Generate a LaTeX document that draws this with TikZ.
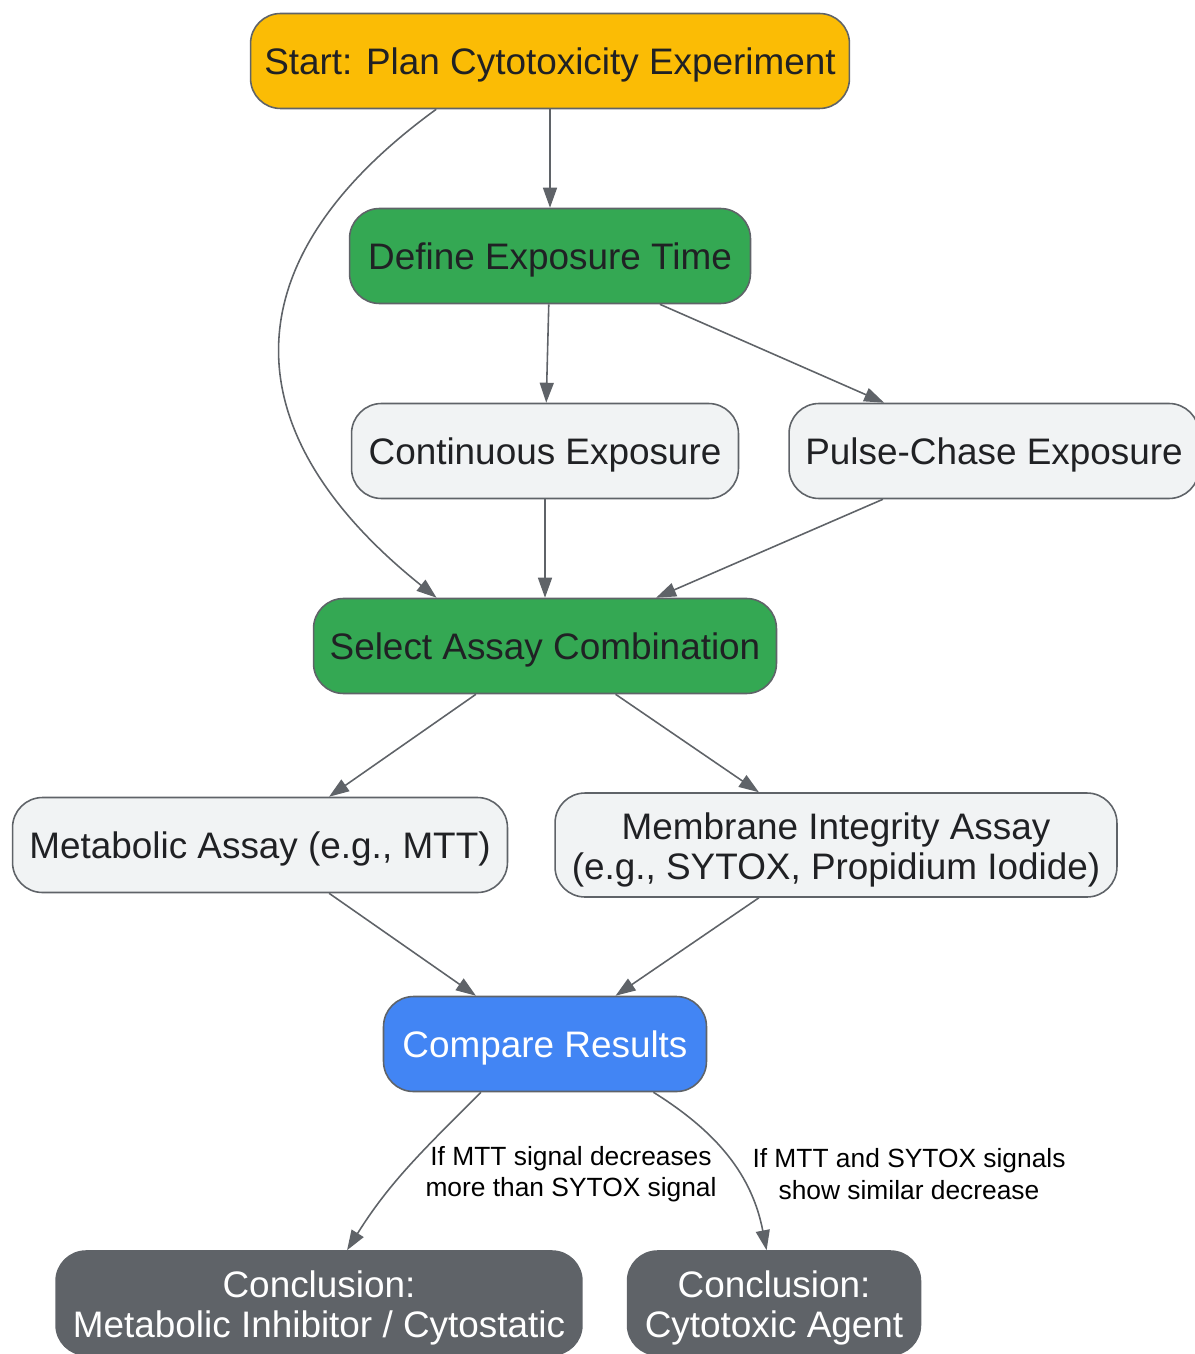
\documentclass[tikz,border=0pt]{standalone}
\usepackage{fontspec}
\setmainfont{Liberation Sans}
\usetikzlibrary{arrows.meta}

\definecolor{boxgray}{HTML}{5F6368}
\definecolor{lightfill}{HTML}{F1F3F4}
\definecolor{textdark}{HTML}{202124}
\definecolor{startyellow}{HTML}{FBBC05}
\definecolor{stepgreen}{HTML}{34A853}
\definecolor{compareblue}{HTML}{4285F4}

\newcommand{\firstline}{\rule{0pt}{21pt}}  %hebt die erste Zeile an

\begin{document}
\begin{tikzpicture}[x=0.02cm, y=-0.02cm,
  flowbox/.style={draw=boxgray, line width=0.9pt, rounded corners=0.6cm, minimum height=1.9cm,
    align=center, inner sep=0pt, text=textdark, font=\fontsize{21}{23}\selectfont},
  oneline/.style={text height=17pt, text depth=1.2pt},
  lightbox/.style={flowbox, fill=lightfill},
  greenbox/.style={flowbox, fill=stepgreen, oneline},
  darkbox/.style={flowbox, fill=boxgray, text=white, minimum height=2.08cm},
  flowarrow/.style={draw=boxgray, line width=0.9pt, -{Triangle[length=0.4cm,width=0.28cm]}},
  edgetext/.style={align=center, text=black, font=\fontsize{15}{18}\selectfont}]

  \useasboundingbox (0,0) rectangle (1194,1354);  %Bildrand

  \node[flowbox, oneline, fill=startyellow, minimum width=11.98cm] (start) at (550,61) {Start: Plan Cytotoxicity Experiment};  %Start
  \node[greenbox, minimum width=8.02cm] (exposure) at (550,256) {Define Exposure Time};
  \node[lightbox, oneline, minimum width=7.74cm] (continuous) at (545,451) {Continuous Exposure};
  \node[lightbox, oneline, minimum width=8.2cm] (pulse) at (994,451) {Pulse-Chase Exposure};
  \node[greenbox, minimum width=9.26cm] (assay) at (545,646) {Select Assay Combination};
  \node[lightbox, oneline, minimum width=9.9cm] (metabolic) at (260,845) {Metabolic Assay (e.g., MTT)};
  \node[lightbox, minimum width=11.24cm, minimum height=2.08cm] (membrane) at (836,845) {\firstline Membrane Integrity Assay\\(e.g., SYTOX, Propidium Iodide)};
  \node[flowbox, oneline, fill=compareblue, text=white, minimum width=6.46cm] (compare) at (545,1044) {Compare Results};
  \node[darkbox, minimum width=10.52cm] (cytostatic) at (319,1303) {\firstline Conclusion:\\Metabolic Inhibitor / Cytostatic};  %Schluss links
  \node[darkbox, minimum width=5.86cm] (cytotoxic) at (774,1303) {\firstline Conclusion:\\Cytotoxic Agent};  %Schluss rechts

  \draw[flowarrow] (start) -- (exposure);
  \draw[flowarrow] (start.203) .. controls (226,262) and (231,433) .. (assay.156);  %Bogen links
  \draw[flowarrow] (exposure) -- (continuous);
  \draw[flowarrow] (exposure) -- (pulse);
  \draw[flowarrow] (continuous) -- (assay);
  \draw[flowarrow] (pulse) -- (assay);
  \draw[flowarrow] (assay) -- (metabolic);
  \draw[flowarrow] (assay) -- (membrane);
  \draw[flowarrow] (metabolic) -- (compare);
  \draw[flowarrow] (membrane) -- (compare);
  \draw[flowarrow] (compare.217) to[out=-135, in=58] (cytostatic.62);
  \draw[flowarrow] (compare.-24) to[out=-32, in=101] (cytotoxic.98);

  \node[edgetext] (leftcase) at (571,1174) {If MTT signal decreases\\more than SYTOX signal};  %Beschriftung links
  \node[edgetext] (rightcase) at (909,1174) {If MTT and SYTOX signals\\show similar decrease};  %Beschriftung rechts
\end{tikzpicture}
\end{document}
